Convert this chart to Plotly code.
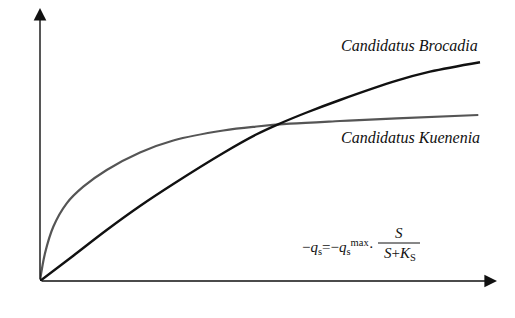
import plotly.graph_objects as go

# (arbitrary units: substrate concentration S, uptake rate -q_s)
kuenenia_S = [0, 5, 13.3, 26.7, 43.3, 66.7, 100, 133.3, 183.3, 216.7, 250, 300, 356.7, 438.3]
kuenenia_q = [0, 27.7, 54.3, 77.7, 94.3, 111, 128.5, 140.5, 150.5, 154.5, 157.3, 160, 162.7, 166]
brocadia_S = [0, 33.3, 66.7, 100, 133.3, 183.3, 216.7, 240, 266.7, 300, 356.7, 390, 440]
brocadia_q = [0, 25.3, 51, 75, 97, 128, 146.7, 157.5, 168.5, 181, 200.3, 209.3, 218.8]

x_title = "底物浓度<i>S</i>"
y_title = "底物吸收速率（−<i>q</i><sub>s</sub>）"
label_b = "Candidatus Brocadia"
label_k = "Candidatus Kuenenia"

XMAX, YMAX = 457, 273

fig = go.Figure()
fig.add_trace(go.Scatter(x=kuenenia_S, y=kuenenia_q, mode="lines",
                         line=dict(color="#555555", width=2.2, shape="spline", smoothing=1.0),
                         hoverinfo="skip"))
fig.add_trace(go.Scatter(x=brocadia_S, y=brocadia_q, mode="lines",
                         line=dict(color="#111111", width=2.4, shape="spline", smoothing=1.0),
                         hoverinfo="skip"))

serif = "Liberation Serif, Times New Roman, serif"
cjk = "Noto Sans CJK SC, sans-serif"

ann = []
# axis arrows
ann.append(dict(x=XMAX, y=0, ax=0, ay=0, xref="x", yref="y", axref="x", ayref="y",
                showarrow=True, arrowhead=2, arrowsize=1.8, arrowwidth=1.4, arrowcolor="#111", text=""))
ann.append(dict(x=0, y=YMAX, ax=0, ay=0, xref="x", yref="y", axref="x", ayref="y",
                showarrow=True, arrowhead=2, arrowsize=1.8, arrowwidth=1.4, arrowcolor="#111", text=""))
# titles
ann.append(dict(x=222, y=-21, xref="x", yref="y", text=x_title, showarrow=False,
                font=dict(family=cjk, size=15, color="#111")))
ann.append(dict(x=-18, y=134, xref="x", yref="y", text=y_title, showarrow=False, textangle=-90,
                font=dict(family=cjk, size=15, color="#111")))
# series labels
ann.append(dict(x=369, y=236, xref="x", yref="y", text="<i>" + label_b + "</i>", showarrow=False,
                font=dict(family=serif, size=16, color="#111")))
ann.append(dict(x=370, y=144, xref="x", yref="y", text="<i>" + label_k + "</i>", showarrow=False,
                font=dict(family=serif, size=16, color="#111")))
# formula
ann.append(dict(x=298, y=34, xref="x", yref="y",
                text="−<i>q</i><sub>s</sub>=−<i>q</i><sub>s</sub><sup>max</sup>·", showarrow=False,
                font=dict(family=serif, size=15, color="#111")))
ann.append(dict(x=359, y=48, xref="x", yref="y", text="<i>S</i>", showarrow=False,
                font=dict(family=serif, size=15, color="#111")))
ann.append(dict(x=360, y=27, xref="x", yref="y", text="<i>S</i>+<i>K</i><sub>S</sub>", showarrow=False,
                font=dict(family=serif, size=15, color="#111")))

fig.update_layout(
    width=515, height=318,
    margin=dict(l=40, r=18, t=8, b=37),
    paper_bgcolor="white", plot_bgcolor="white",
    showlegend=False,
    xaxis=dict(range=[0, XMAX], visible=False),
    yaxis=dict(range=[0, YMAX], visible=False),
    annotations=ann,
    shapes=[dict(type="line", xref="x", yref="y", x0=338, x1=380, y0=38, y1=38,
                 line=dict(color="#111", width=1))],
)
fig.write_html("out.html")
